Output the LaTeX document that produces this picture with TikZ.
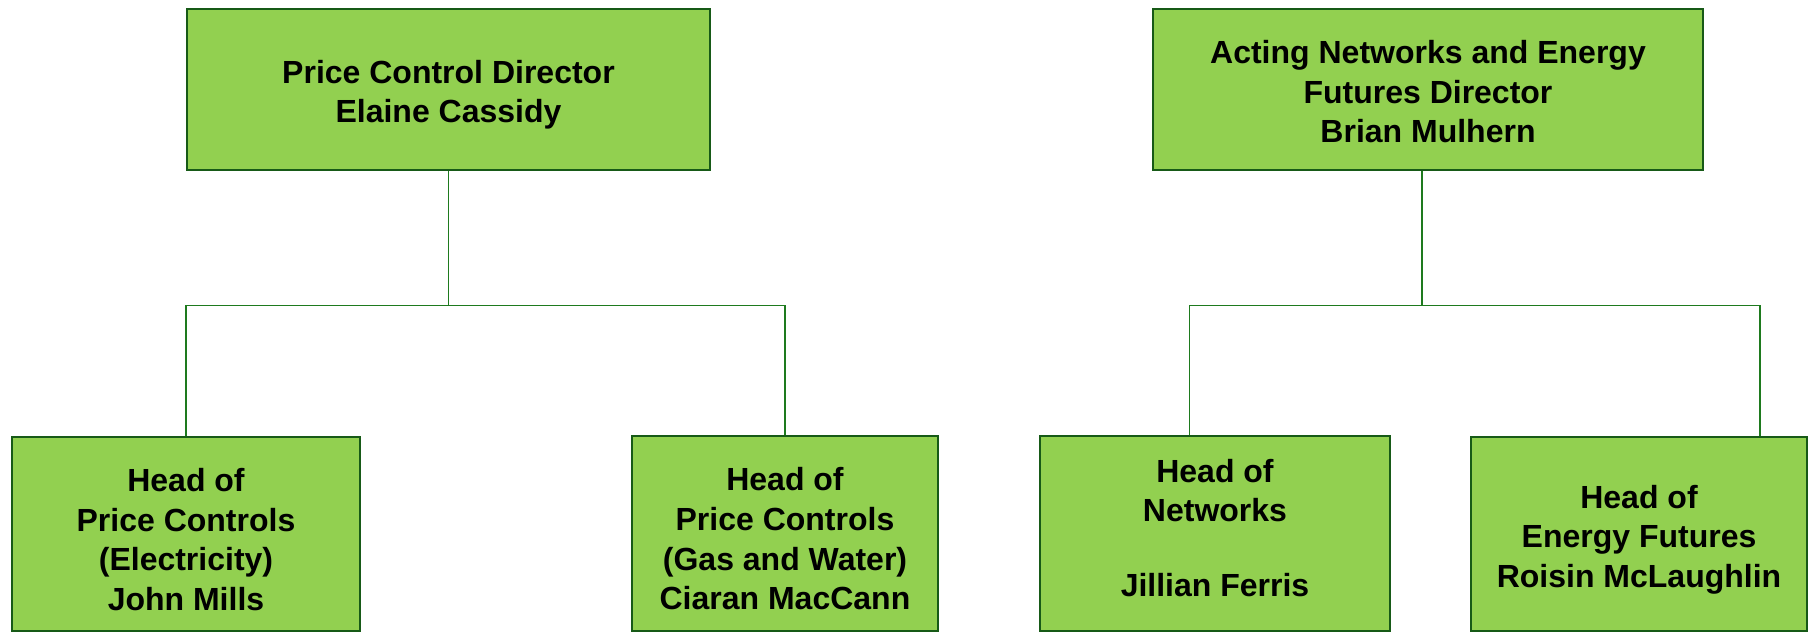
\documentclass[tikz,border=0pt]{standalone}
\usepackage{fontspec}
\setmainfont{Liberation Sans}
\usepackage{tikz}
\definecolor{boxfill}{HTML}{92D050}
\definecolor{boxline}{HTML}{175A17}
\definecolor{linkline}{HTML}{1E7A1E}
\newcommand{\topgap}[1][17pt]{\rule{0pt}{#1}}
\newcommand{\lowgap}[1][8pt]{\rule[-#1]{0pt}{1pt}}
\tikzset{
	box/.style={draw=boxline, line width=1.2pt, fill=boxfill, align=center,
		font=\fontsize{16}{19.8}\selectfont\bfseries, inner sep=0pt},
	link/.style={draw=linkline, line width=0.6pt}
}

\begin{document}
\begin{tikzpicture}[x=1pt,y=-1pt]
		\useasboundingbox (0,0) rectangle (907,316);
		\node[box, minimum width=261.5pt, minimum height=80.5pt] (pcd) at (224.25,44.75) {\topgap Price Control Director\\Elaine Cassidy};
		\node[box, minimum width=275pt, minimum height=80.5pt] (anf) at (714,44.75) {\topgap[14pt]Acting Networks and Energy\\Futures Director\\Brian Mulhern};
		\node[box, minimum width=174pt, minimum height=97pt] (hpe) at (93,267) {\topgap Head of\\Price Controls\\(Electricity)\\John Mills};
		\node[box, minimum width=153pt, minimum height=97.5pt] (hpg) at (392.5,266.75) {\topgap Head of\\Price Controls\\(Gas and Water)\\Ciaran MacCann};
		\node[box, minimum width=175pt, minimum height=97.5pt] (hn) at (607.5,266.75) {\topgap[14pt]Head of\\Networks\\[-1pt]~\\[-1pt]Jillian Ferris\lowgap};
		\node[box, minimum width=168pt, minimum height=97pt] (hef) at (819.5,267) {\topgap Head of\\Energy Futures\\Roisin McLaughlin};
		\draw[link] (pcd.south) -- ++(0,67) -| (hpe.north);
		\draw[link] (pcd.south) -- ++(0,67) -| (hpg.north);
		\draw[link] ([xshift=-3pt]anf.south) -- ++(0,67) -| ([xshift=-12.75pt]hn.north);
		\draw[link] ([xshift=-3pt]anf.south) -- ++(0,67) -| ([xshift=60.5pt]hef.north);
	\end{tikzpicture}
\end{document}
